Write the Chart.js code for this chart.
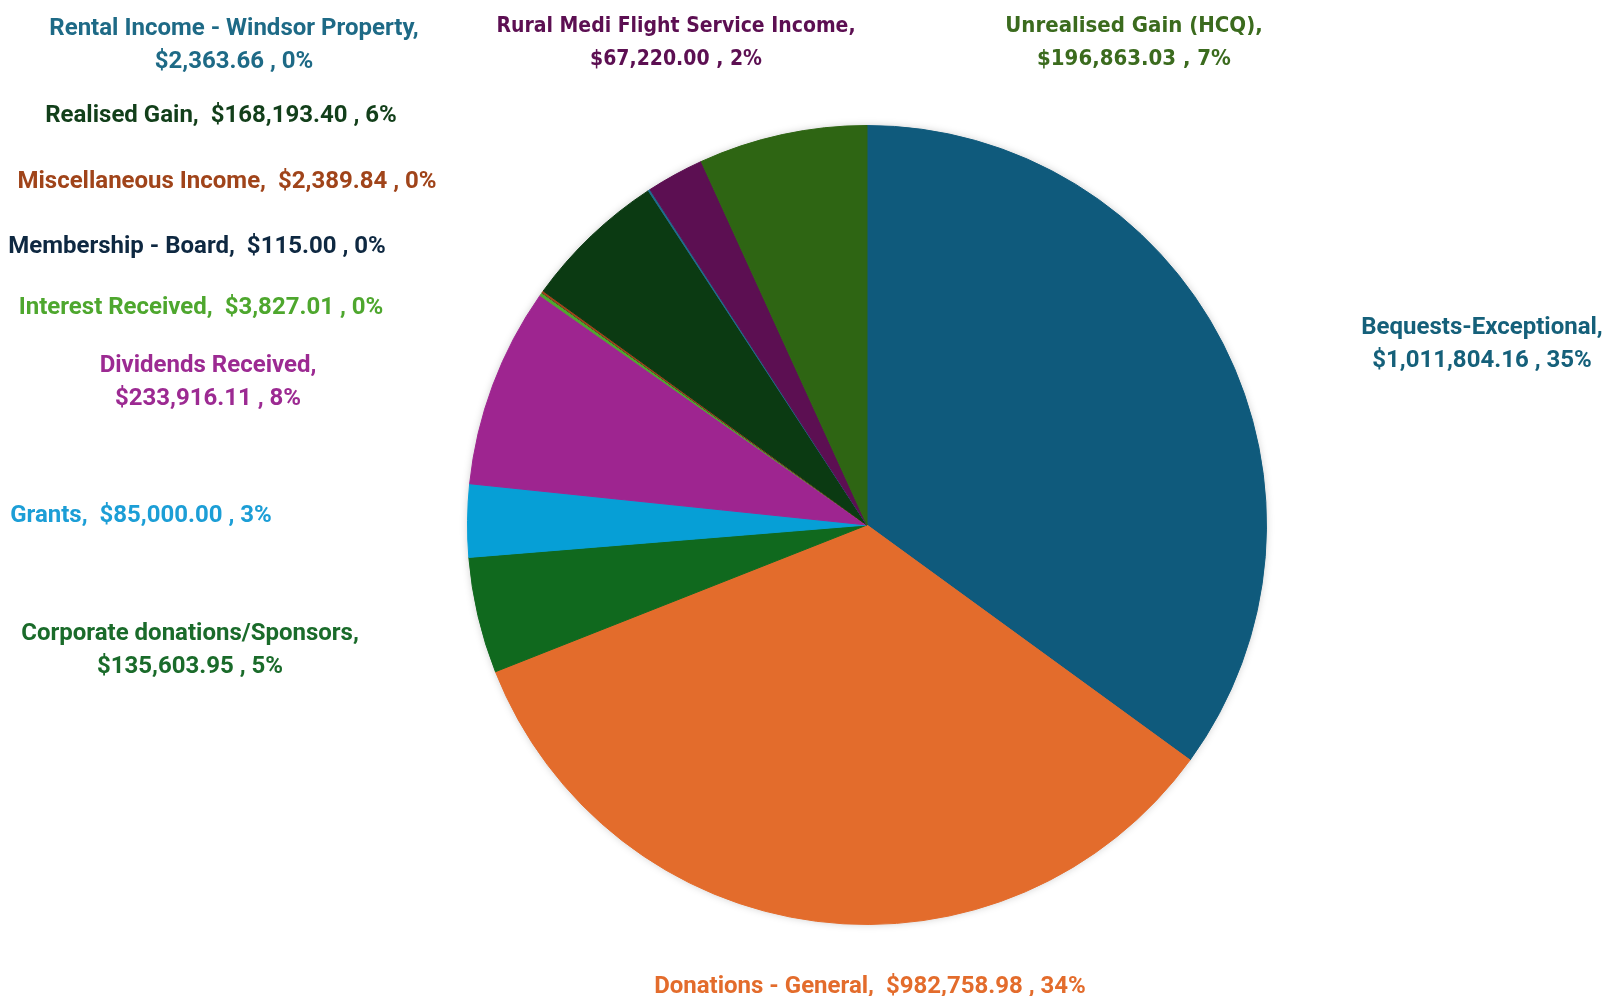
<!DOCTYPE html>
<html>
<head>
<meta charset="utf-8">
<script src="https://cdn.jsdelivr.net/npm/chart.js@4/dist/chart.umd.min.js"></script>
<style>
  html, body { margin:0; padding:0; background:#fff; }
  #wrap { width:1612px; height:996px; position:relative; }
</style>
</head>
<body>
<div id="wrap"><canvas id="pieChart"></canvas></div>
<script>
// data, clockwise from the top
const categories = [
  'Bequests-Exceptional', 'Donations - General', 'Corporate donations/Sponsors', 'Grants',
  'Dividends Received', 'Interest Received', 'Membership - Board', 'Miscellaneous Income',
  'Realised Gain', 'Rental Income - Windsor Property', 'Rural Medi Flight Service Income',
  'Unrealised Gain (HCQ)'
];
const amounts = [
  1011804.16, 982758.98, 135603.95, 85000.00,
  233916.11, 3827.01, 115.00, 2389.84,
  168193.40, 2363.66, 67220.00,
  196863.03
];
const sliceColors = [
  '#0f5a7c', '#e36c2c', '#10691e', '#069fd6',
  '#9e2590', '#4ea72e', '#0e2841', '#a0441a',
  '#0b3a12', '#1e6c8c', '#5c0f52',
  '#2e6513'
];
const labelColors = [
  '#15607a', '#e36c2c', '#1a6b2a', '#1c9ed6',
  '#9c2a92', '#4ea72e', '#0e2841', '#a0441a',
  '#123f1a', '#1e6a86', '#5c0f52',
  '#3b6b1e'
];

// label placement: centre x, centre y of first line, two lines or one, condensed font size
const labelLayout = [
  {x:1482, y:328, two:true},
  {x:870,  y:987, two:false},
  {x:190,  y:634, two:true},
  {x:141,  y:516, two:false},
  {x:208,  y:366, two:true},
  {x:201,  y:308, two:false},
  {x:197,  y:247, two:false},
  {x:227,  y:182, two:false},
  {x:221,  y:116, two:false},
  {x:234,  y:29,  two:true},
  {x:676,  y:27,  two:true, narrow:21},
  {x:1134, y:26,  two:true, narrow:22}
];

const total = amounts.reduce((a, b) => a + b, 0);
function money(v) {
  return '$' + v.toLocaleString('en-US', {minimumFractionDigits:2, maximumFractionDigits:2});
}

const outsideLabels = {
  id: 'outsideLabels',
  beforeDatasetsDraw(chart) {
    // soft shadow round the pie
    const ctx = chart.ctx;
    ctx.save();
    ctx.shadowColor = 'rgba(0,0,0,0.25)';
    ctx.shadowBlur = 8;
    const a = chart.getDatasetMeta(0).data[0];
    ctx.beginPath();
    ctx.arc(a.x, a.y, a.outerRadius - 1, 0, Math.PI * 2);
    ctx.fillStyle = '#fff';
    ctx.fill();
    ctx.restore();
  },
  afterDatasetsDraw(chart) {
    const ctx = chart.ctx;
    ctx.save();
    ctx.textAlign = 'center';
    ctx.textBaseline = 'middle';
    categories.forEach((name, i) => {
      const L = labelLayout[i];
      const pct = Math.round(amounts[i] / total * 100) + '%';
      const val = money(amounts[i]) + ' , ' + pct;
      ctx.fillStyle = labelColors[i];
      ctx.font = L.narrow ? 'bold ' + L.narrow + 'px "DejaVu Sans Condensed", "Liberation Sans Narrow", Roboto'
                          : 'bold 24px Roboto, "Noto Sans", sans-serif';
      if (L.two) {
        ctx.fillText(name + ',', L.x, L.y);
        ctx.fillText(val, L.x, L.y + 33);
      } else {
        ctx.fillText(name + ',  ' + val, L.x, L.y);
      }
    });
    ctx.restore();
  }
};

new Chart(document.getElementById('pieChart'), {
  type: 'pie',
  data: {
    labels: categories,
    datasets: [{
      data: amounts,
      backgroundColor: sliceColors,
      borderColor: sliceColors,
      borderWidth: 1
    }]
  },
  options: {
    responsive: true,
    maintainAspectRatio: false,
    animation: false,
    layout: { padding: { top:125, bottom:71, left:467, right:345 } },
    plugins: {
      legend: { display:false },
      tooltip: { enabled:false },
      title: { display:false }
    }
  },
  plugins: [outsideLabels]
});
</script>
</body>
</html>
